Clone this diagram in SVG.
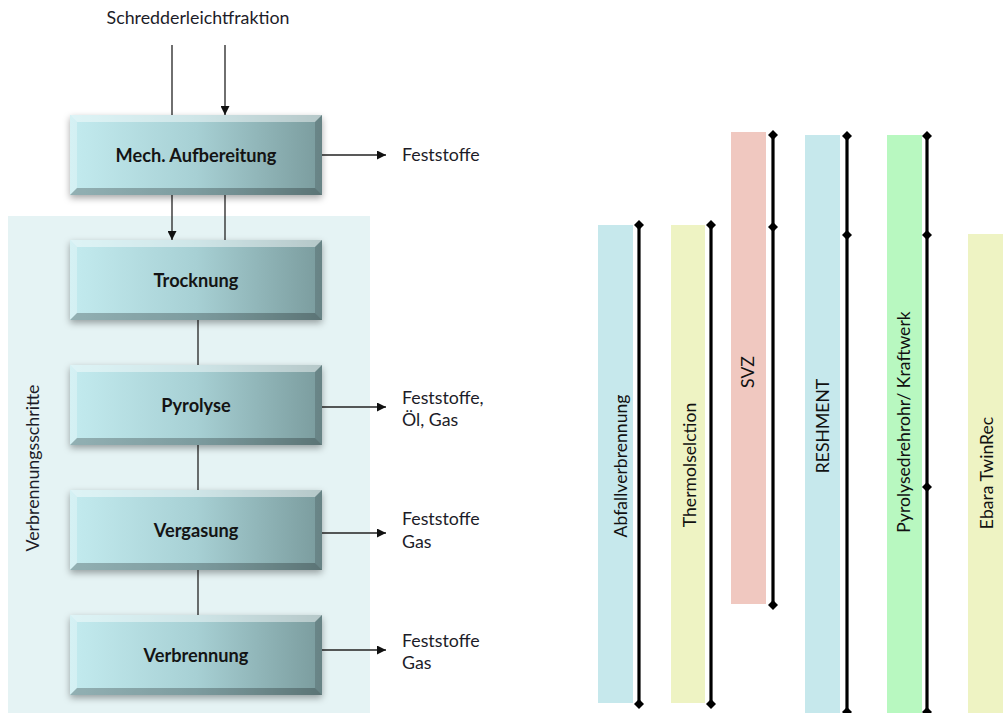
<svg xmlns="http://www.w3.org/2000/svg" xmlns:xlink="http://www.w3.org/1999/xlink" width="1003" height="713" viewBox="0 0 1003 713">
  <style>
    text { font-family: Lato, "Open Sans", "Liberation Sans", sans-serif; fill: #1c1c28; }
    .lbl { font-size: 17.8px; }
    .box-t { font-size: 18.2px; font-weight: bold; text-anchor: middle; fill: #141414; }
    .bar-t { font-size: 17.6px; text-anchor: middle; fill: #111; }
    .conn { stroke: #222; stroke-width: 1.3; fill: none; }
    .time { stroke: #000; stroke-width: 3.2; fill: none; }
  </style>
  <defs>
    <linearGradient id="boxFill" x1="0" y1="0" x2="1" y2="0">
      <stop offset="0" stop-color="#c3ebef"/>
      <stop offset="0.5" stop-color="#a7d0d4"/>
      <stop offset="1" stop-color="#7a9b9d"/>
    </linearGradient>
    <filter id="shadow" x="-10%" y="-20%" width="120%" height="150%">
      <feDropShadow dx="0" dy="3" stdDeviation="3.5" flood-color="#000" flood-opacity="0.35"/>
    </filter>
    <marker id="arrow" viewBox="0 0 10 10" refX="10" refY="5" markerWidth="9" markerHeight="9" markerUnits="userSpaceOnUse" orient="auto">
      <path d="M0,0 L10,5 L0,10 Z" fill="#111"/>
    </marker>
    <path id="dia" d="M0,-5 L5,0 L0,5 L-5,0 Z" fill="#000"/>
    <!-- bevelled process box, 252 x 80 -->
    <g id="procBox">
      <rect x="0" y="0" width="252" height="80" fill="url(#boxFill)" filter="url(#shadow)"/>
      <polygon points="0,0 252,0 245,7 7,7" fill="#ffffff" fill-opacity="0.45"/>
      <polygon points="0,0 7,7 7,73 0,80" fill="#ffffff" fill-opacity="0.3"/>
      <polygon points="252,0 252,80 245,73 245,7" fill="#000" fill-opacity="0.15"/>
      <polygon points="0,80 7,73 245,73 252,80" fill="#000" fill-opacity="0.25"/>
    </g>
  </defs>

  <rect width="1003" height="713" fill="#ffffff"/>

  <!-- combustion stages panel -->
  <rect id="panel" x="8" y="216" width="362" height="497" fill="#e5f3f4"/>
  <text class="lbl" transform="translate(39,468) rotate(-90)" text-anchor="middle">Verbrennungsschritte</text>

  <text class="lbl" x="198" y="24" text-anchor="middle">Schredderleichtfraktion</text>

  <!-- connectors -->
  <g id="connectors">
    <line class="conn" x1="172" y1="45" x2="172" y2="115"/>
    <line class="conn" x1="225" y1="45" x2="225" y2="115" marker-end="url(#arrow)"/>
    <line class="conn" x1="172" y1="195" x2="172" y2="240" marker-end="url(#arrow)"/>
    <line class="conn" x1="225" y1="195" x2="225" y2="240"/>
    <line class="conn" x1="198" y1="318" x2="198" y2="365"/>
    <line class="conn" x1="198" y1="443" x2="198" y2="490"/>
    <line class="conn" x1="198" y1="568" x2="198" y2="615"/>
    <line class="conn" x1="322" y1="155" x2="386" y2="155" marker-end="url(#arrow)"/>
    <line class="conn" x1="322" y1="407" x2="386" y2="407" marker-end="url(#arrow)"/>
    <line class="conn" x1="322" y1="533" x2="386" y2="533" marker-end="url(#arrow)"/>
    <line class="conn" x1="322" y1="650" x2="386" y2="650" marker-end="url(#arrow)"/>
  </g>

  <!-- process steps -->
  <g id="mech">
    <use xlink:href="#procBox" x="70" y="115"/>
    <text class="box-t" x="196" y="162">Mech. Aufbereitung</text>
  </g>
  <g id="trocknung">
    <use xlink:href="#procBox" x="70" y="240"/>
    <text class="box-t" x="196" y="287">Trocknung</text>
  </g>
  <g id="pyrolyse">
    <use xlink:href="#procBox" x="70" y="365"/>
    <text class="box-t" x="196" y="412">Pyrolyse</text>
  </g>
  <g id="vergasung">
    <use xlink:href="#procBox" x="70" y="490"/>
    <text class="box-t" x="196" y="537">Vergasung</text>
  </g>
  <g id="verbrennung">
    <use xlink:href="#procBox" x="70" y="615"/>
    <text class="box-t" x="196" y="662">Verbrennung</text>
  </g>

  <!-- outputs -->
  <g id="outputs">
    <text class="lbl" x="402" y="161">Feststoffe</text>
    <text class="lbl" x="402" y="404">Feststoffe,</text>
    <text class="lbl" x="402" y="426">Öl, Gas</text>
    <text class="lbl" x="402" y="525">Feststoffe</text>
    <text class="lbl" x="402" y="548">Gas</text>
    <text class="lbl" x="402" y="647">Feststoffe</text>
    <text class="lbl" x="402" y="669">Gas</text>
  </g>

  <!-- process comparison bars -->
  <g id="abfallverbrennung">
    <rect x="598" y="225" width="35" height="478" fill="#c6e8ec"/>
    <line class="time" x1="639" y1="225" x2="639" y2="704"/>
    <use xlink:href="#dia" x="639" y="225"/>
    <use xlink:href="#dia" x="639" y="704"/>
    <text class="bar-t" transform="translate(627,466) rotate(-90)">Abfallverbrennung</text>
  </g>
  <g id="thermoselect">
    <rect x="671" y="225" width="34" height="478" fill="#eef3c3"/>
    <line class="time" x1="711" y1="225" x2="711" y2="704"/>
    <use xlink:href="#dia" x="711" y="225"/>
    <use xlink:href="#dia" x="711" y="704"/>
    <text class="bar-t" transform="translate(696,465) rotate(-90)">Thermolselction</text>
  </g>
  <g id="svz">
    <rect x="731" y="132" width="35" height="472" fill="#f0c8c0"/>
    <line class="time" x1="773" y1="135" x2="773" y2="605"/>
    <use xlink:href="#dia" x="773" y="135"/>
    <use xlink:href="#dia" x="773" y="227"/>
    <use xlink:href="#dia" x="773" y="605"/>
    <text class="bar-t" transform="translate(754,372) rotate(-90)">SVZ</text>
  </g>
  <g id="reshment">
    <rect x="805" y="135" width="35" height="578" fill="#c6e8ec"/>
    <line class="time" x1="847" y1="136" x2="847" y2="713"/>
    <use xlink:href="#dia" x="847" y="136"/>
    <use xlink:href="#dia" x="847" y="235"/>
    <use xlink:href="#dia" x="847" y="712"/>
    <text class="bar-t" transform="translate(829,426) rotate(-90)">RESHMENT</text>
  </g>
  <g id="pyrolysedrehrohr">
    <rect x="887" y="135" width="35" height="578" fill="#b8f8c0"/>
    <line class="time" x1="927" y1="136" x2="927" y2="713"/>
    <use xlink:href="#dia" x="927" y="136"/>
    <use xlink:href="#dia" x="927" y="235"/>
    <use xlink:href="#dia" x="927" y="487"/>
    <use xlink:href="#dia" x="927" y="712"/>
    <text class="bar-t" transform="translate(910,422) rotate(-90)">Pyrolysedrehrohr/ Kraftwerk</text>
  </g>
  <g id="ebara">
    <rect x="968" y="234" width="40" height="479" fill="#eef3c3"/>
    <text class="bar-t" transform="translate(993,473) rotate(-90)">Ebara TwinRec</text>
  </g>
</svg>
